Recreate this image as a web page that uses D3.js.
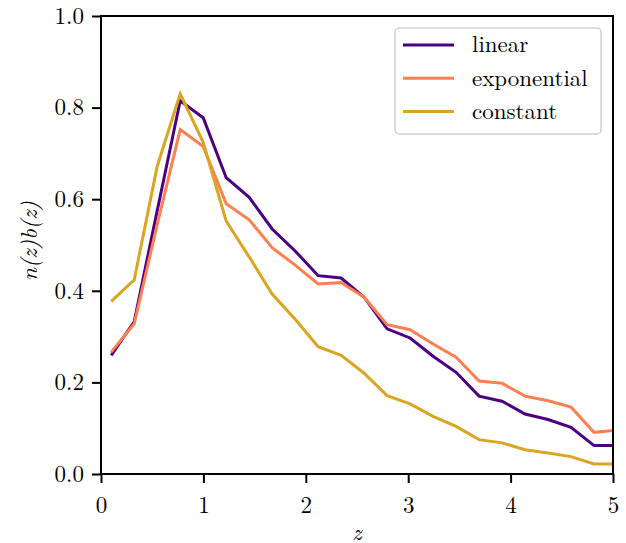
<!DOCTYPE html>
<html>
  <head>
    <meta charset="utf-8">
    <title>n(z)b(z)</title>
    <script src="https://d3js.org/d3.v7.min.js"></script>
    <style>
      body { margin: 0; background: #fff; }
    </style>
  </head>
  <body>
    <div id="chart"></div>
    <script>
      // redshift bins (centres)
      const zValues = [0.100, 0.3245, 0.549, 0.7735, 0.998, 1.2225, 1.447, 1.6715, 1.896, 2.1205,
                       2.345, 2.5695, 2.794, 3.0185, 3.243, 3.4675, 3.692, 3.9165, 4.141, 4.3655,
                       4.590, 4.8145, 5.039];
      const linearVals = [0.259, 0.333, 0.575, 0.815, 0.778, 0.647, 0.604, 0.535, 0.487, 0.433,
                          0.428, 0.386, 0.317, 0.297, 0.257, 0.222, 0.170, 0.159, 0.131, 0.119,
                          0.102, 0.062, 0.062];
      const exponentialVals = [0.266, 0.328, 0.545, 0.752, 0.715, 0.590, 0.555, 0.494, 0.456, 0.415,
                               0.418, 0.386, 0.326, 0.315, 0.284, 0.255, 0.203, 0.198, 0.170, 0.160,
                               0.146, 0.091, 0.096];
      const constantVals = [0.377, 0.424, 0.672, 0.830, 0.724, 0.552, 0.474, 0.393, 0.338, 0.278,
                            0.259, 0.220, 0.171, 0.153, 0.126, 0.104, 0.075, 0.068, 0.053, 0.046,
                            0.038, 0.022, 0.022];
      const seriesNames = ["linear", "exponential", "constant"];
      const seriesColors = ["#4b0082", "#ff7f50", "#daa520"];
      const xTicks = [0, 1, 2, 3, 4, 5];
      const yTicks = [0.0, 0.2, 0.4, 0.6, 0.8, 1.0];

      const serif = "'Latin Modern Roman', 'Liberation Serif', serif";

      let w = 626, h = 543;
      let margin = { top: 16, right: 13, bottom: 69, left: 101 },
          width = w - margin.left - margin.right,
          height = h - margin.top - margin.bottom;

      let svg = d3.select("#chart").append("svg")
          .attr("width", w)
          .attr("height", h)
        .append("g")
          .attr("transform", "translate(" + margin.left + "," + margin.top + ")");

      let x = d3.scaleLinear().domain([0, 5]).range([0, width]);
      let y = d3.scaleLinear().domain([0, 1]).range([height, 0]);

      svg.append("defs").append("clipPath").attr("id", "clip")
        .append("rect").attr("width", width).attr("height", height);

      let allSeries = [linearVals, exponentialVals, constantVals];
      let line = d3.line()
          .x((d, i) => x(zValues[i]))
          .y(d => y(d));

      svg.append("g").attr("clip-path", "url(#clip)")
        .selectAll("path")
        .data(allSeries).enter()
        .append("path")
          .attr("d", line)
          .attr("fill", "none")
          .attr("stroke", (d, i) => seriesColors[i])
          .attr("stroke-width", 3)
          .attr("stroke-linejoin", "miter");

      // axes
      let xAxis = d3.axisBottom(x).tickValues(xTicks).tickFormat(d3.format("d"))
          .tickSize(9).tickPadding(8);
      let yAxis = d3.axisLeft(y).tickValues(yTicks).tickFormat(d3.format(".1f"))
          .tickSize(9).tickPadding(8);

      let gx = svg.append("g").attr("transform", "translate(0," + height + ")").call(xAxis);
      let gy = svg.append("g").call(yAxis);
      [gx, gy].forEach(g => {
        g.attr("font-family", serif);
        g.select(".domain").remove();
        g.selectAll(".tick line").attr("stroke", "#000").attr("stroke-width", 2);
        g.selectAll(".tick text").style("font-size", "23px").style("font-family", serif);
      });
      gx.selectAll(".tick text").attr("dy", "0.95em");

      // frame
      svg.append("rect")
        .attr("width", width).attr("height", height)
        .attr("fill", "none").attr("stroke", "#000").attr("stroke-width", 2);

      // axis labels
      svg.append("text")
        .attr("x", width / 2).attr("y", height + 66)
        .attr("text-anchor", "middle")
        .style("font-family", serif)
        .style("font-size", "23px").style("font-style", "italic")
        .text("z");

      svg.append("text")
        .attr("transform", "translate(" + (-64) + "," + (height / 2 - 4) + ") rotate(-90)")
        .attr("text-anchor", "middle")
        .style("font-family", serif)
        .style("font-size", "23px").style("font-style", "italic")
        .text("n(z)b(z)");

      // legend
      let legend = svg.append("g").attr("transform", "translate(294,12)");
      legend.append("rect")
        .attr("width", 206).attr("height", 106)
        .attr("rx", 4).attr("ry", 4)
        .attr("fill", "#fff").attr("stroke", "#d0d0d0").attr("stroke-width", 1.5);
      let items = legend.selectAll(".item")
        .data(seriesNames).enter()
        .append("g")
          .attr("transform", (d, i) => "translate(0," + (17 + i * 33.3) + ")");
      items.append("line")
        .attr("x1", 8).attr("x2", 59)
        .attr("stroke", (d, i) => seriesColors[i])
        .attr("stroke-width", 3);
      items.append("text")
        .attr("x", 77).attr("dy", "0.32em")
        .style("font-family", serif)
        .style("font-size", "23px")
        .text(d => d);
    </script>
  </body>
</html>
